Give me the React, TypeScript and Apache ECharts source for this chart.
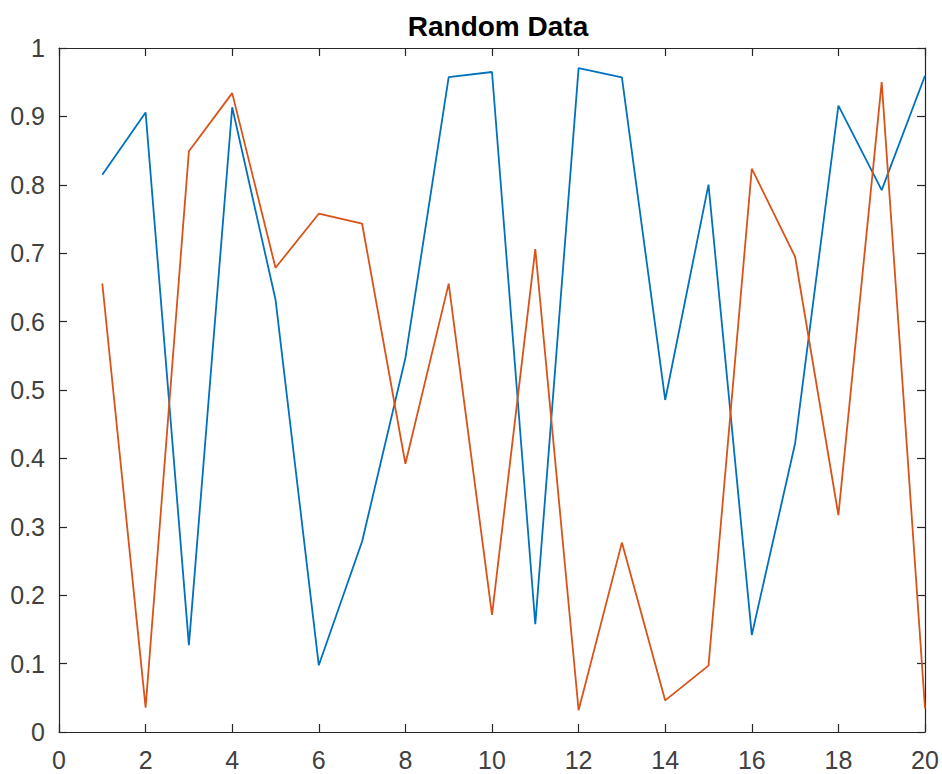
import React, { useEffect, useRef } from "react";
import * as echarts from "echarts";

const xValues = [1, 2, 3, 4, 5, 6, 7, 8, 9, 10, 11, 12, 13, 14, 15, 16, 17, 18, 19, 20];
const series1 = [0.8147, 0.9058, 0.127, 0.9134, 0.6324, 0.0975, 0.2785, 0.5469, 0.9575, 0.9649, 0.1576, 0.9706, 0.9572, 0.4854, 0.8003, 0.1419, 0.4218, 0.9157, 0.7922, 0.9595];
const series2 = [0.6557, 0.0357, 0.8491, 0.934, 0.6787, 0.7577, 0.7431, 0.3922, 0.6555, 0.1712, 0.706, 0.0318, 0.2769, 0.0462, 0.0971, 0.8235, 0.6948, 0.3171, 0.9502, 0.0344];
const titleText = "Random Data";

const axisColor = "#262626";
const labelColor = "#404040";
const font = "'Liberation Sans', Arial, sans-serif";

export default function App() {
  const ref = useRef<HTMLDivElement>(null);
  useEffect(() => {
    if (!ref.current) return;
    const chart = echarts.init(ref.current, null, { renderer: "svg" });
    const mk = (vals: number[]) => xValues.map((x, i) => [x, vals[i]]);
    const baseX = {
      type: "value" as const,
      min: 0,
      max: 20,
      interval: 2,
      splitLine: { show: false },
      axisLine: { show: true, onZero: false, lineStyle: { color: axisColor, width: 1.2 } },
      axisTick: { show: true, inside: true, length: 8, lineStyle: { color: axisColor, width: 1.2 } },
    };
    const baseY = {
      type: "value" as const,
      min: 0,
      max: 1,
      interval: 0.1,
      splitLine: { show: false },
      axisLine: { show: true, onZero: false, lineStyle: { color: axisColor, width: 1.2 } },
      axisTick: { show: true, inside: true, length: 8, lineStyle: { color: axisColor, width: 1.2 } },
    };
    chart.setOption({
      animation: false,
      backgroundColor: "#ffffff",
      title: {
        text: titleText,
        left: 493,
        textAlign: "center",
        top: 7,
        textStyle: { fontFamily: font, fontWeight: "bold", fontSize: 28, color: "#000000" },
      },
      grid: { left: 59, right: 17, top: 48, bottom: 42 },
      xAxis: [
        {
          ...baseX,
          position: "bottom",
          axisLabel: { color: labelColor, fontFamily: font, fontSize: 25, margin: 15 },
        },
        { ...baseX, position: "top", axisLabel: { show: false } },
      ],
      yAxis: [
        {
          ...baseY,
          position: "left",
          axisLabel: {
            color: labelColor,
            fontFamily: font,
            fontSize: 25,
            margin: 14,
            padding: [5, 0, 0, 0],
            formatter: (v: number) => (Math.round(v * 10) / 10).toString(),
          },
        },
        { ...baseY, position: "right", axisLabel: { show: false } },
      ],
      series: [
        {
          type: "line",
          data: mk(series1),
          showSymbol: false,
          symbol: "none",
          lineStyle: { color: "#0072BD", width: 1.8 },
          itemStyle: { color: "#0072BD" },
        },
        {
          type: "line",
          data: mk(series2),
          showSymbol: false,
          symbol: "none",
          lineStyle: { color: "#D95319", width: 1.8 },
          itemStyle: { color: "#D95319" },
        },
      ],
    });
    return () => chart.dispose();
  }, []);
  return (
    <div
      ref={ref}
      style={{ position: "absolute", left: 0, top: 0, width: 942, height: 774, background: "#fff" }}
    />
  );
}
